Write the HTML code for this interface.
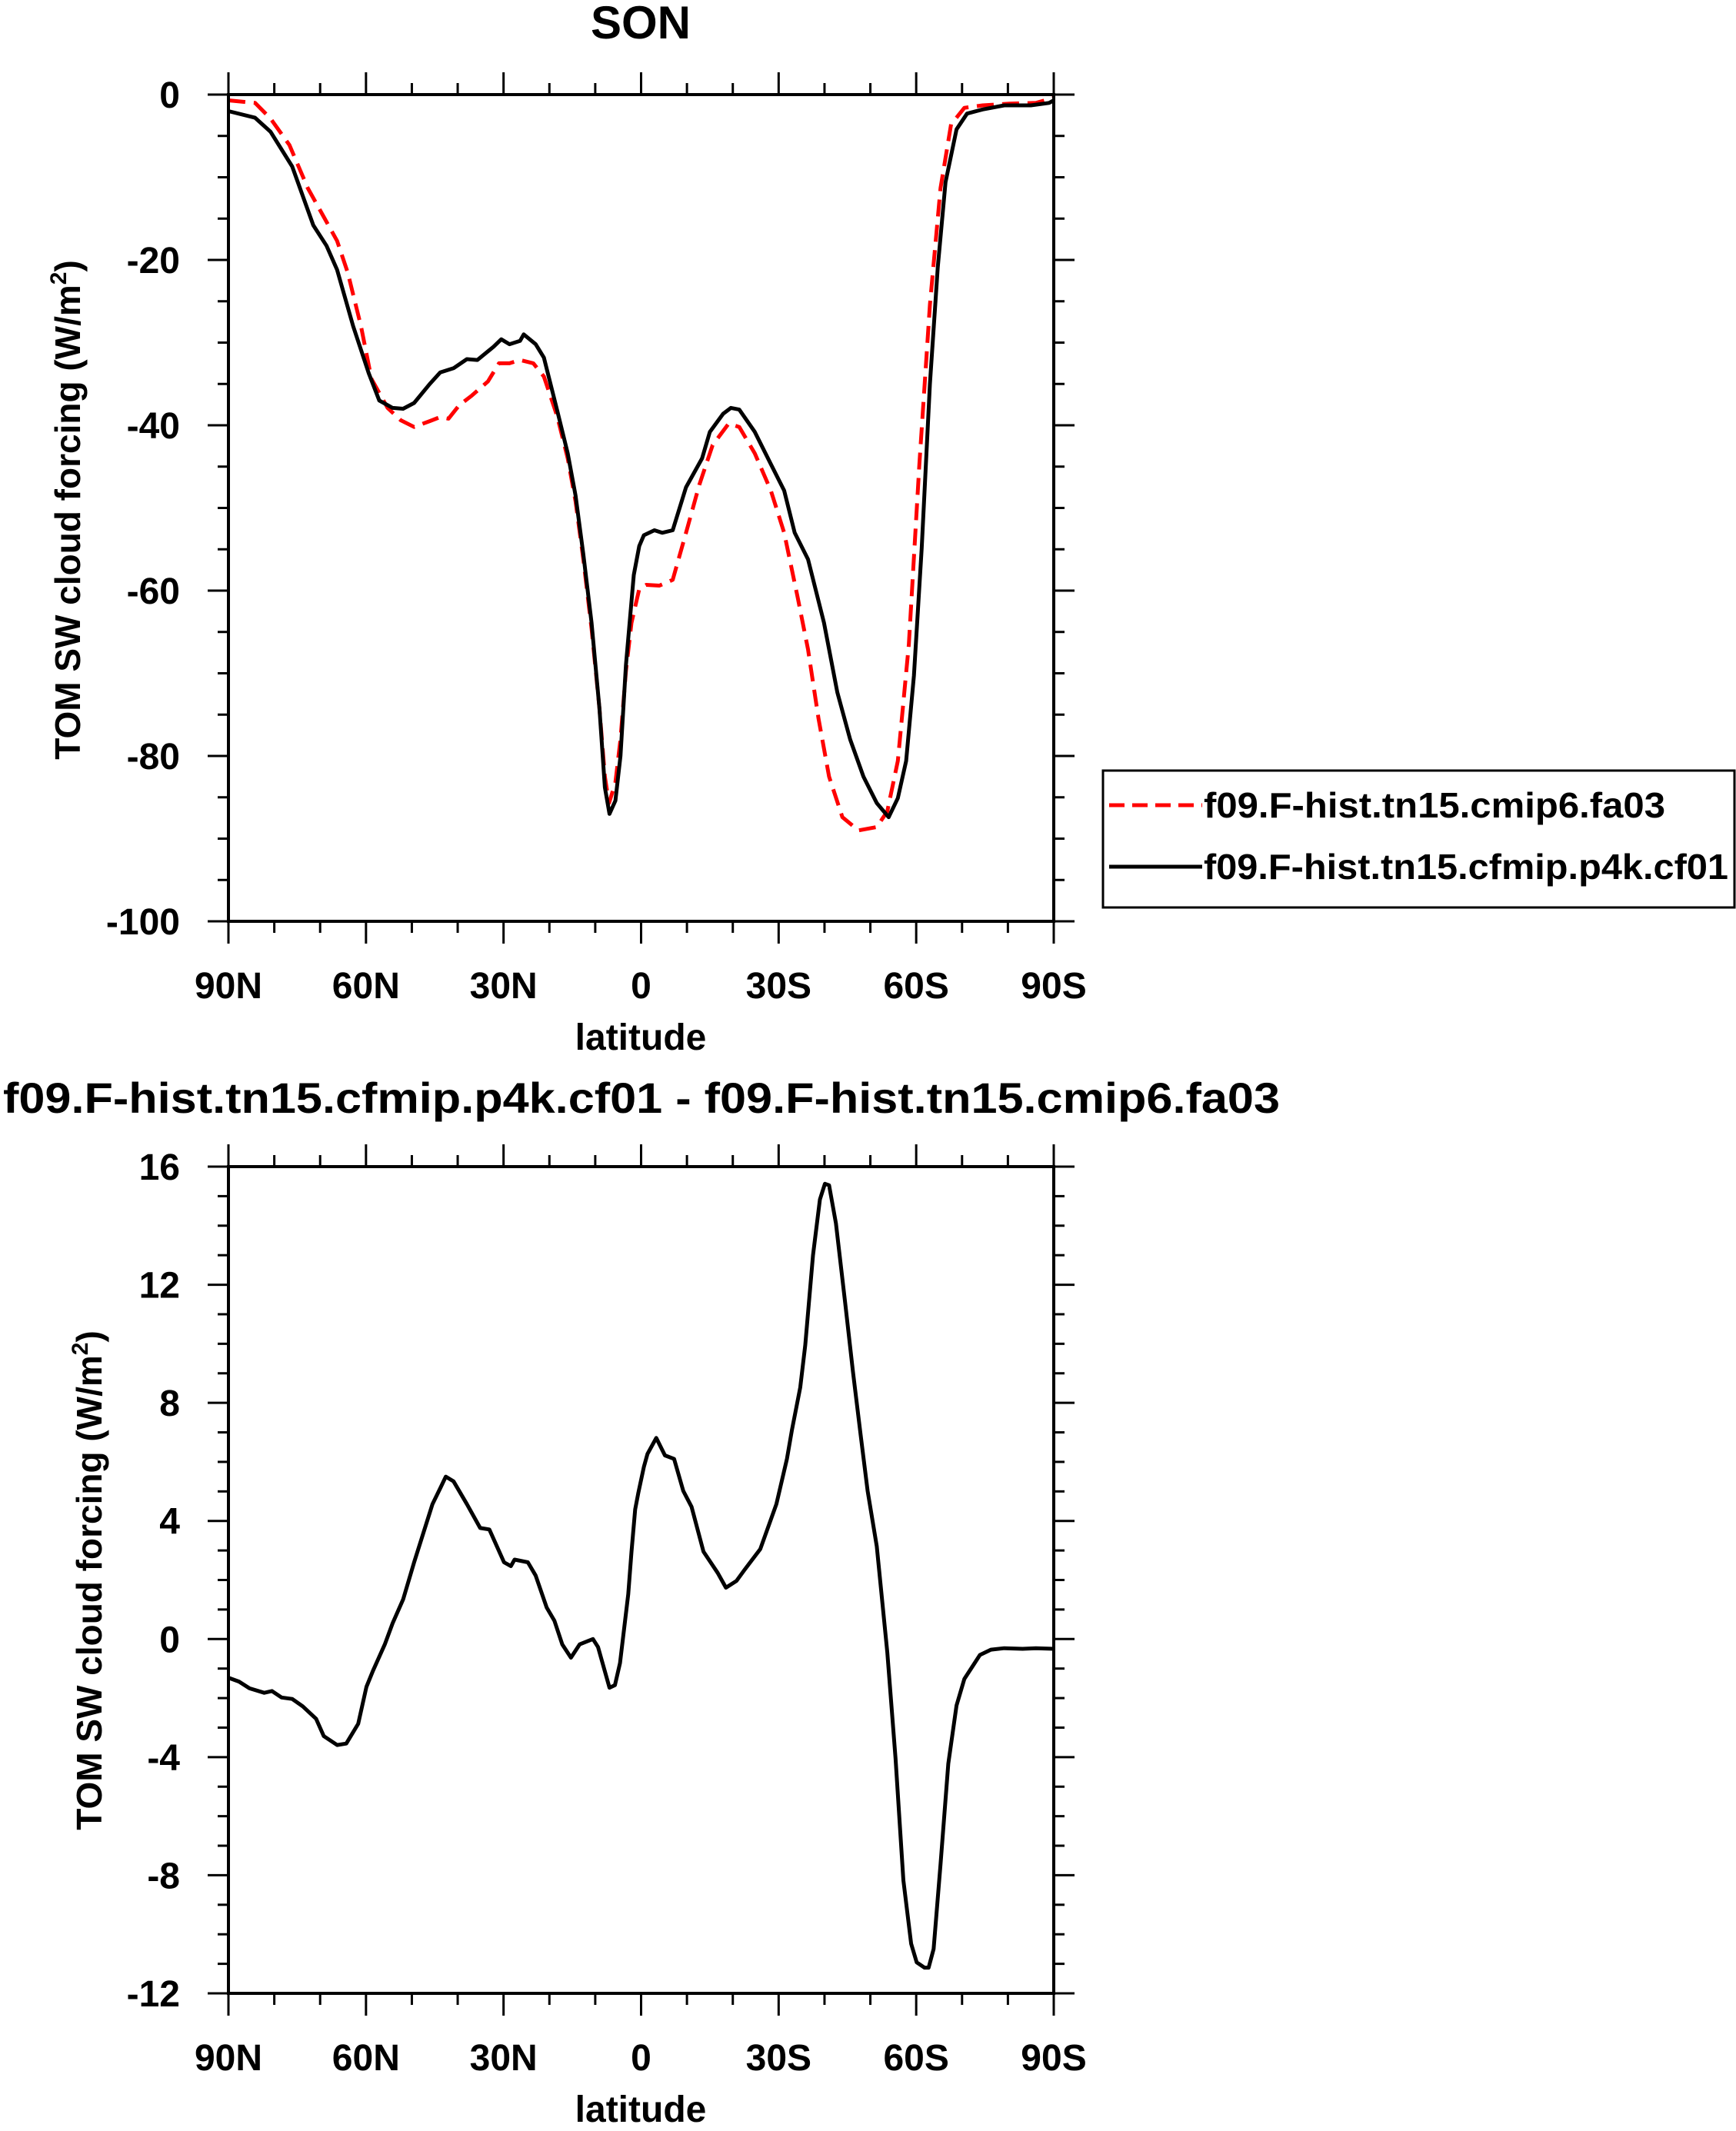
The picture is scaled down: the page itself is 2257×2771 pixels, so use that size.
<!DOCTYPE html>
<html>
<head>
<meta charset="utf-8">
<style>
  html,body{margin:0;padding:0;background:#fff;}
  svg{display:block;}
  text{font-family:"Liberation Sans",Arial,sans-serif;font-weight:bold;fill:#000;}
</style>
</head>
<body>
<svg id="chart" width="2257" height="2771" viewBox="0 0 2257 2771" xmlns="http://www.w3.org/2000/svg">
  <text x="833" y="50" font-size="60" text-anchor="middle">SON</text>
  <g id="top"></g>
  <g id="bottom"></g>
  <text x="4" y="1447" font-size="56" textLength="1660" lengthAdjust="spacingAndGlyphs">f09.F-hist.tn15.cfmip.p4k.cf01 - f09.F-hist.tn15.cmip6.fa03</text>
  <g>
    <rect x="1434" y="1002" width="821" height="178" fill="#fff" stroke="#000" stroke-width="3"/>
    <line x1="1442" y1="1047" x2="1563" y2="1047" stroke="#ff0000" stroke-width="5" stroke-dasharray="20,10"/>
    <text x="1565" y="1063" font-size="46" textLength="600" lengthAdjust="spacingAndGlyphs">f09.F-hist.tn15.cmip6.fa03</text>
    <line x1="1442" y1="1127" x2="1563" y2="1127" stroke="#000" stroke-width="5"/>
    <text x="1565" y="1143" font-size="46" textLength="682" lengthAdjust="spacingAndGlyphs">f09.F-hist.tn15.cfmip.p4k.cf01</text>
  </g>
</svg>
<script>
// ---- data ----
const latTicks = [90, 60, 30, 0, -30, -60, -90];
const latTickLabels = ["90N", "60N", "30N", "0", "30S", "60S", "90S"];
const topYTicks = [0, -20, -40, -60, -80, -100];
const bottomYTicks = [16, 12, 8, 4, 0, -4, -8, -12];

const cmip6Lat = [90,84.2,80.8,76.7,72.7,69.2,66.3,64.0,61.1,58.8,55.3,52.4,49.5,46.1,43.8,42.0,39.7,36.9,33.4,31.0,28.7,26.4,23.5,21.2,18.3,16.0,14.3,12.6,10.8,9.1,7.9,7.0,5.6,4.5,3.3,2.1,0.4,-1.1,-4.0,-6.9,-9.8,-12.7,-15.6,-19.1,-21.4,-24.8,-28.3,-31.2,-34.1,-36.4,-38.7,-41.0,-43.9,-47.4,-51.4,-53.7,-56.0,-58.4,-60.7,-63.0,-65.3,-67.6,-70.5,-74.5,-80.3,-86.1,-90];
const cmip6Val = [-0.7,-1.0,-2.9,-6.1,-11.3,-14.8,-17.7,-21.5,-28.0,-34.4,-37.9,-39.4,-40.2,-39.5,-39.0,-39.2,-37.6,-36.4,-34.7,-32.5,-32.5,-32.1,-32.5,-34.1,-38.9,-44.0,-49.2,-56.2,-64.6,-74.2,-82.5,-85.7,-83.2,-78.0,-69.7,-63.9,-59.8,-59.3,-59.4,-58.7,-53.0,-47.2,-42.4,-39.8,-40.2,-43.4,-47.9,-53.0,-60.7,-67.1,-75.5,-82.5,-87.4,-89.0,-88.6,-86.7,-80.6,-66.5,-44.7,-25.4,-11.3,-3.6,-1.6,-1.3,-1.1,-1.0,-0.4];

const p4kLat = [90,84.2,80.8,76.1,71.5,68.6,66.3,62.8,59.4,57.1,54.2,51.9,49.5,46.1,43.8,40.9,38.0,35.7,32.2,30.5,28.7,26.4,25.6,23.0,21.2,18.3,16.0,14.3,12.6,10.8,9.1,7.9,6.9,5.6,4.5,3.3,1.6,0.4,-0.6,-2.9,-4.6,-6.9,-9.8,-13.3,-15.0,-17.9,-19.6,-21.4,-24.8,-28.3,-31.2,-33.5,-36.4,-39.9,-42.8,-45.6,-48.5,-51.4,-54.0,-56.0,-57.8,-59.5,-61.2,-63.0,-64.7,-66.4,-68.8,-71.1,-74.5,-79.2,-85.0,-89.0,-90];
const p4kVal = [-2.0,-2.8,-4.5,-8.7,-15.8,-18.3,-21.2,-28,-33.7,-37,-37.9,-38.0,-37.3,-35.0,-33.6,-33.1,-32.0,-32.1,-30.5,-29.6,-30.2,-29.8,-29.0,-30.2,-31.8,-38.2,-43.4,-48.5,-55.6,-63.9,-74.2,-83.8,-87.0,-85.4,-80.0,-69.0,-58.1,-54.6,-53.3,-52.7,-53.0,-52.7,-47.5,-44.0,-40.8,-38.6,-37.9,-38.1,-40.8,-44.7,-47.9,-53.0,-56.2,-63.9,-72.3,-78.0,-82.5,-85.7,-87.4,-85.1,-80.6,-70.3,-54.9,-35.0,-20.9,-10.6,-4.2,-2.3,-1.8,-1.3,-1.3,-1.0,-0.7];

const diffLat = [90,87.7,85.4,82.2,80.5,78.4,76.1,73.8,70.9,69.2,66.3,64.3,61.7,59.9,58.5,55.9,54.2,51.9,49.5,45.5,43.8,42.6,40.9,38.0,35.1,33.1,29.9,28.4,27.6,24.7,23.0,20.6,18.9,17.2,15.3,13.4,10.5,9.4,6.9,5.7,4.6,2.8,2.1,1.3,0.6,-0.6,-1.4,-3.3,-5.2,-7.2,-9.2,-11.0,-13.6,-16.7,-18.5,-20.8,-22.5,-26.0,-29.5,-31.8,-32.9,-34.7,-35.8,-37.5,-39.0,-40.1,-41.0,-42.5,-44.5,-46.2,-47.9,-49.4,-51.4,-53.7,-55.5,-57.2,-58.9,-60.1,-61.8,-62.7,-63.8,-65.3,-67.0,-68.8,-70.5,-73.9,-76.3,-79.2,-83.2,-86.1,-90];
const diffVal = [-1.31,-1.44,-1.67,-1.82,-1.76,-1.98,-2.03,-2.28,-2.70,-3.29,-3.59,-3.54,-2.87,-1.62,-1.08,-0.18,0.53,1.34,2.60,4.57,5.11,5.50,5.34,4.57,3.76,3.71,2.60,2.47,2.69,2.60,2.15,1.07,0.62,-0.18,-0.63,-0.18,0.00,-0.27,-1.65,-1.56,-0.81,1.52,2.95,4.39,4.95,5.83,6.27,6.81,6.22,6.10,5.02,4.48,2.96,2.24,1.74,1.97,2.33,3.05,4.57,6.10,7.08,8.52,9.95,13.0,14.89,15.42,15.37,14.08,11.39,9.06,6.90,5.02,3.14,-0.45,-4.04,-8.17,-10.32,-10.95,-11.13,-11.13,-10.50,-7.63,-4.22,-2.25,-1.35,-0.54,-0.36,-0.31,-0.33,-0.31,-0.33];

const NS = "http://www.w3.org/2000/svg";
function mk(parent, tag, attrs) {
  const e = document.createElementNS(NS, tag);
  for (const k in attrs) e.setAttribute(k, attrs[k]);
  parent.appendChild(e);
  return e;
}

function drawPanel(g, cfg) {
  const L = 297, R = 1370, T = cfg.top, B = cfg.bottom;
  const xs = lat => L + (90 - lat) / 180 * (R - L);
  const ys = v => T + (cfg.ymax - v) / (cfg.ymax - cfg.ymin) * (B - T);
  // x ticks (top and bottom, outward)
  for (let lat = 90; lat >= -90; lat -= 10) {
    const major = lat % 30 === 0;
    const len = major ? 29 : 15;
    const x = xs(lat);
    const t1 = mk(g, "line", {x1: x, y1: T, x2: x, y2: T - len, stroke: "#000", "stroke-width": 3});
    
    
    const t2 = mk(g, "line", {x1: x, y1: B, x2: x, y2: B + len, stroke: "#000", "stroke-width": 3});
    
    
  }
  // y ticks
  for (let v = cfg.ymin; v <= cfg.ymax + 1e-9; v += cfg.minorStep) {
    const major = Math.abs(Math.round(v / cfg.majorStep) * cfg.majorStep - v) < 1e-9;
    const len = major ? 27 : 14;
    const y = ys(v);
    const t1 = mk(g, "line", {x1: L, y1: y, x2: L - len, y2: y, stroke: "#000", "stroke-width": 3});
    
    
    const t2 = mk(g, "line", {x1: R, y1: y, x2: R + len, y2: y, stroke: "#000", "stroke-width": 3});
    
    
  }
  cfg.yTicks.forEach(v => {
    const t = mk(g, "text", {x: 234, y: ys(v) + 17, "font-size": 48, "text-anchor": "end"});
    t.textContent = String(v);
    
    
  });
  latTicks.forEach((lat, i) => {
    const t = mk(g, "text", {x: xs(lat), y: B + 100, "font-size": 48, "text-anchor": "middle"});
    t.textContent = latTickLabels[i];
    
    
  });
  const xt = mk(g, "text", {x: 833, y: B + 167, "font-size": 48, "text-anchor": "middle"});
  xt.textContent = "latitude";
  
  
  const yt = mk(g, "text", {x: 0, y: 0, "font-size": 46, "text-anchor": "middle",
    transform: "translate(" + cfg.ytX + "," + cfg.ytY + ") rotate(-90)"});
  yt.appendChild(document.createTextNode("TOM SW cloud forcing (W/m"));
  const sup = mk(yt, "tspan", {"font-size": 30, dy: -18});
  sup.textContent = "2";
  const close = mk(yt, "tspan", {"font-size": 46, dy: 18});
  close.textContent = ")";
  
  
  // series
  cfg.series.forEach(s => {
    const d = s.lat.map((la, i) => (i ? "L" : "M") + xs(la).toFixed(1) + "," + ys(s.val[i]).toFixed(1)).join(" ");
    const p = mk(g, "path", {d: d, fill: "none", stroke: s.color, "stroke-width": 5,
      "stroke-linejoin": "round", "stroke-dasharray": s.dash || "none"});
    
    
  });
  // frame
  const f = mk(g, "rect", {x: L, y: T, width: R - L, height: B - T, fill: "none", stroke: "#000", "stroke-width": 4});
  
  
}

drawPanel(document.getElementById("top"), {
  top: 123, bottom: 1198, ymax: 0, ymin: -100, majorStep: 20, minorStep: 5,
  yTicks: topYTicks, ytX: 104, ytY: 663,
  series: [
    {name: "series-cmip6-fa03", lat: cmip6Lat, val: cmip6Val, color: "#ff0000", dash: "22,11"},
    {name: "series-p4k-cf01", lat: p4kLat, val: p4kVal, color: "#000"}
  ]
});
drawPanel(document.getElementById("bottom"), {
  top: 1517, bottom: 2592, ymax: 16, ymin: -12, majorStep: 4, minorStep: 1,
  yTicks: bottomYTicks, ytX: 132, ytY: 2055,
  series: [
    {name: "series-difference", lat: diffLat, val: diffVal, color: "#000"}
  ]
});
</script>
</body>
</html>
